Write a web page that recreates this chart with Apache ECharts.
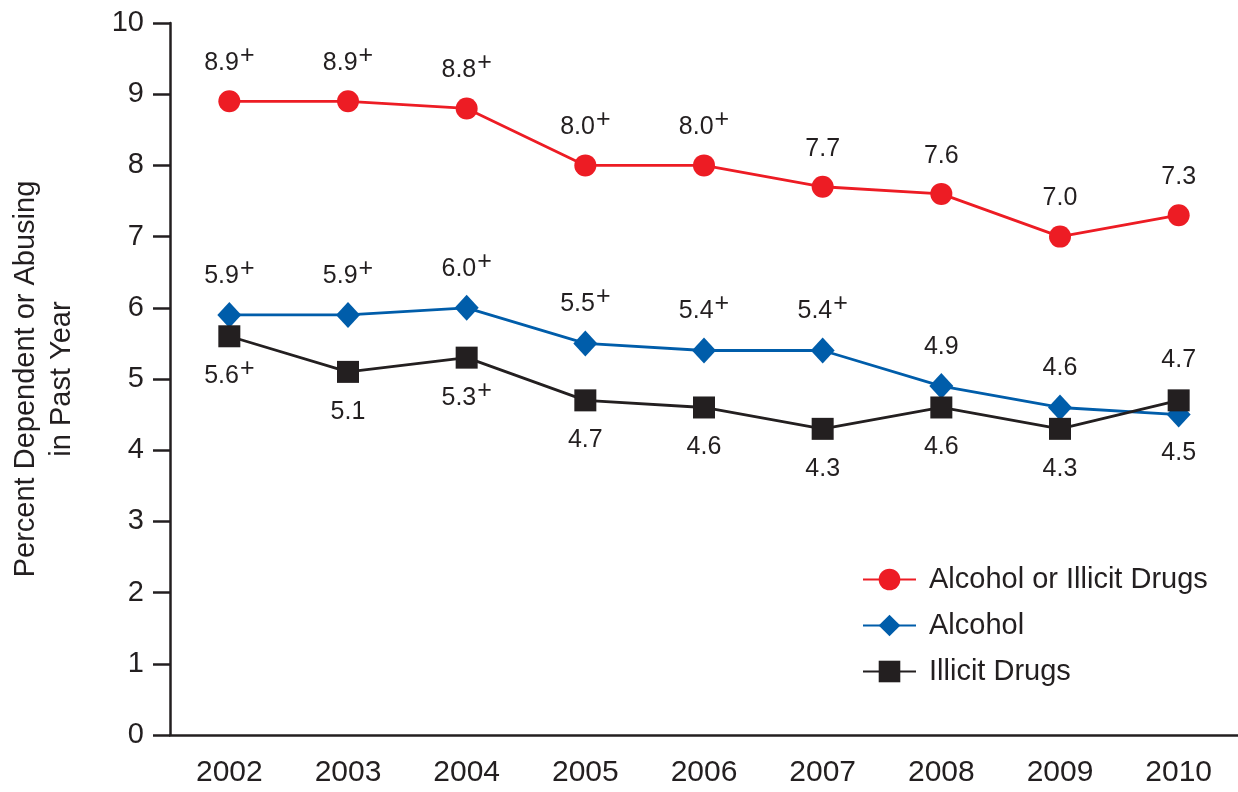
<!DOCTYPE html>
<html>
<head>
<meta charset="utf-8">
<script src="https://cdn.jsdelivr.net/npm/echarts@6/dist/echarts.min.js"></script>
<style>
html,body{margin:0;padding:0;background:#fff;}
#chart{width:1238px;height:792px;}
</style>
</head>
<body>
<div id="chart"></div>
<script>
const years = ['2002','2003','2004','2005','2006','2007','2008','2009','2010'];
const alcoholOrIllicit = [8.9, 8.9, 8.8, 8.0, 8.0, 7.7, 7.6, 7.0, 7.3];
const alcohol = [5.9, 5.9, 6.0, 5.5, 5.4, 5.4, 4.9, 4.6, 4.5];
const illicit = [5.6, 5.1, 5.3, 4.7, 4.6, 4.3, 4.6, 4.3, 4.7];
// "+" marks: difference from 2010 estimate is statistically significant
const sigAlcoholOrIllicit = [1, 1, 1, 1, 1, 0, 0, 0, 0];
const sigAlcohol = [1, 1, 1, 1, 1, 1, 0, 0, 0];
const sigIllicit = [1, 0, 1, 0, 0, 0, 0, 0, 0];
const yTicks = [0, 1, 2, 3, 4, 5, 6, 7, 8, 9, 10];

const FONT = '"Liberation Sans", Arial, Helvetica, sans-serif';
const TXT = '#231f20';
const RED = '#ed1c24', BLUE = '#005daa', BLACK = '#231f20';

const rich = {
  v: {fontSize: 25, lineHeight: 28, color: TXT, fontFamily: FONT},
  s: {fontSize: 25, lineHeight: 28, padding: [0, 0, 14, 1], color: TXT, fontFamily: FONT}
};
function fmt(sig) {
  return function (p) {
    const t = '{v|' + p.value.toFixed(1) + '}';
    return sig[p.dataIndex] ? t + '{s|+}' : t;
  };
}
function buildData(vals, posFn) {
  return vals.map((v, i) => ({value: v, label: {position: posFn(i)}}));
}

const chart = echarts.init(document.getElementById('chart'), null, {renderer: 'canvas'});
chart.setOption({
  animation: false,
  backgroundColor: '#fff',
  textStyle: {fontFamily: FONT, color: TXT},
  grid: {left: 170, right: 0, top: 23, bottom: 57, containLabel: false, outerBoundsMode: 'none'},
  legend: {
    orient: 'vertical',
    left: 857,
    top: 560,
    itemWidth: 53,
    itemHeight: 27,
    itemGap: 17,
    textStyle: {fontSize: 29, color: TXT, fontFamily: FONT, padding: [0, 0, 0, 8]},
    data: ['Alcohol or Illicit Drugs', 'Alcohol', 'Illicit Drugs']
  },
  xAxis: {
    type: 'category',
    data: years,
    boundaryGap: true,
    axisLine: {lineStyle: {color: BLACK, width: 2.5}},
    axisTick: {alignWithLabel: true, length: 17, lineStyle: {color: BLACK, width: 2.5}},
    axisLabel: {fontSize: 30, color: TXT, margin: 23, fontFamily: FONT},
    splitLine: {show: false}
  },
  yAxis: {
    type: 'value',
    min: 0, max: 10, interval: 1,
    name: 'Percent Dependent or Abusing\nin Past Year',
    nameLocation: 'middle',
    nameGap: 90,
    nameRotate: 90,
    nameTextStyle: {fontSize: 29, lineHeight: 36, color: TXT, fontFamily: FONT},
    axisLine: {show: true, lineStyle: {color: BLACK, width: 2.5}},
    axisTick: {show: true, length: 17, lineStyle: {color: BLACK, width: 2.5}},
    axisLabel: {fontSize: 29, color: TXT, margin: 26, fontFamily: FONT,
      formatter: v => (yTicks.indexOf(v) >= 0 ? String(v) : '')},
    splitLine: {show: false}
  },
  series: [
    {
      name: 'Alcohol or Illicit Drugs',
      type: 'line',
      data: buildData(alcoholOrIllicit, () => 'top'),
      symbol: 'circle', symbolSize: 22,
      lineStyle: {color: RED, width: 2.8},
      itemStyle: {color: RED},
      label: {show: true, distance: 13, formatter: fmt(sigAlcoholOrIllicit), rich: rich},
      z: 3
    },
    {
      name: 'Alcohol',
      type: 'line',
      data: buildData(alcohol, i => (illicit[i] > alcohol[i] ? 'bottom' : 'top')),
      symbol: 'diamond', symbolSize: [24, 26],
      lineStyle: {color: BLUE, width: 2.8},
      itemStyle: {color: BLUE},
      label: {show: true, distance: 12, formatter: fmt(sigAlcohol), rich: rich},
      z: 3
    },
    {
      name: 'Illicit Drugs',
      type: 'line',
      data: buildData(illicit, i => (illicit[i] > alcohol[i] ? 'top' : 'bottom')),
      symbol: 'rect', symbolSize: 22,
      lineStyle: {color: BLACK, width: 2.8},
      itemStyle: {color: BLACK},
      label: {show: true, distance: 15, formatter: fmt(sigIllicit), rich: rich},
      z: 4
    }
  ]
});
</script>
</body>
</html>
